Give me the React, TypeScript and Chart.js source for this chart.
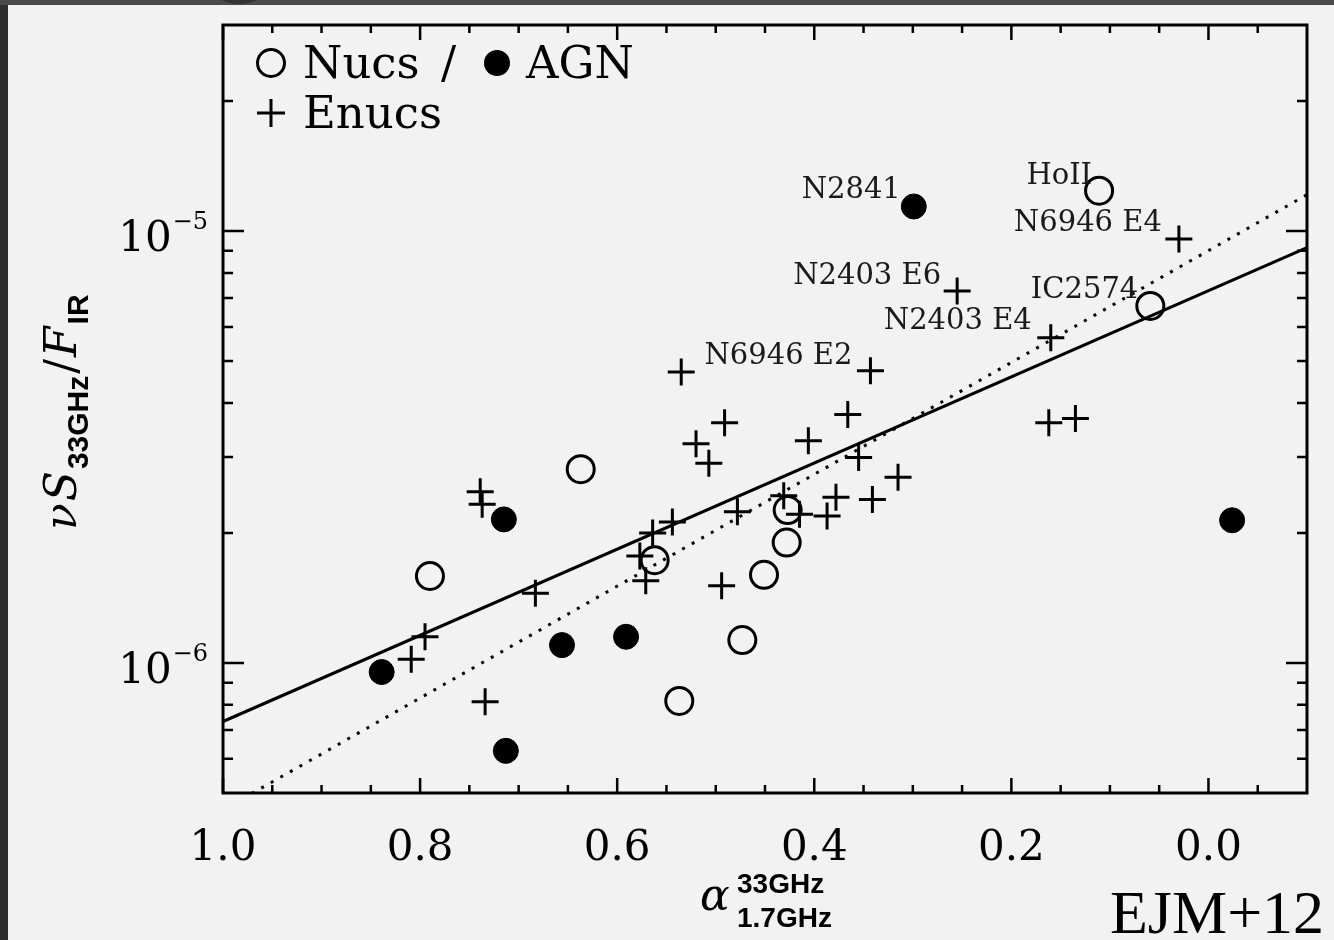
import React, { useEffect, useRef } from "react";
import { Chart, registerables } from "chart.js";

Chart.register(...registerables);

// ---- Data (alpha = spectral index, ratio = nuS_33GHz / F_IR) ----
const nucsAlpha = [0.111, 0.059, 0.637, 0.79, 0.562, 0.427, 0.428, 0.451, 0.473, 0.537];
const nucsRatio = [1.24e-5, 6.71e-6, 2.81e-6, 1.59e-6, 1.73e-6, 2.26e-6, 1.9e-6, 1.6e-6, 1.13e-6, 8.17e-7];

const agnAlpha = [0.299, -0.024, 0.715, 0.839, 0.656, 0.591, 0.713];
const agnRatio = [1.14e-5, 2.14e-6, 2.15e-6, 9.53e-7, 1.1e-6, 1.15e-6, 6.26e-7];

const enucsAlpha = [
  0.03, 0.255, 0.16, 0.343, 0.535, 0.491, 0.52, 0.507, 0.366, 0.406, 0.355, 0.315,
  0.162, 0.135, 0.739, 0.737, 0.431, 0.378, 0.341, 0.415, 0.387, 0.478, 0.544, 0.564,
  0.577, 0.571, 0.683, 0.494, 0.795, 0.809, 0.734,
];
const enucsRatio = [
  9.58e-6, 7.27e-6, 5.66e-6, 4.75e-6, 4.72e-6, 3.6e-6, 3.22e-6, 2.9e-6, 3.76e-6, 3.27e-6, 2.99e-6, 2.69e-6,
  3.6e-6, 3.68e-6, 2.49e-6, 2.33e-6, 2.44e-6, 2.42e-6, 2.39e-6, 2.21e-6, 2.19e-6, 2.24e-6, 2.12e-6, 2.0e-6,
  1.77e-6, 1.55e-6, 1.45e-6, 1.51e-6, 1.15e-6, 1.02e-6, 8.13e-7,
];

const fitAlpha = [1.0, -0.1];
const fitRatio = [7.32e-7, 9.15e-6];
const dottedAlpha = [1.0, -0.1];
const dottedRatio = [4.57e-7, 1.214e-5];

// labelled objects: [series, index, text]
const labelSeries = ["agn", "nucs", "enucs", "enucs", "nucs", "enucs", "enucs"];
const labelIndex = [0, 0, 0, 1, 1, 2, 3];
const labelText = ["N2841", "HoII", "N6946 E4", "N2403 E6", "IC2574", "N2403 E4", "N6946 E2"];
const labelDx = [-13, -7, -17, -16, -12, -19, -18];
const labelDy = [-8, -7, -8, -7, -8, -9, -7];

// ticks
const xMajorTicks = [1.0, 0.8, 0.6, 0.4, 0.2, 0.0];
const xTickLabels = ["1.0", "0.8", "0.6", "0.4", "0.2", "0.0"];
const xMinorTicks = [0.95, 0.9, 0.85, 0.75, 0.7, 0.65, 0.55, 0.5, 0.45, 0.35, 0.3, 0.25, 0.15, 0.1, 0.05, -0.05];
const yMajorTicks = [1e-6, 1e-5];
const yTickExponents = ["\u22126", "\u22125"];
const yMinorTicks = [6e-7, 7e-7, 8e-7, 9e-7, 2e-6, 3e-6, 4e-6, 5e-6, 6e-6, 7e-6, 8e-6, 9e-6, 2e-5];

const toPts = (xs: number[], ys: number[]) => xs.map((x, i) => ({ x, y: ys[i] }));

const SERIF = '"DejaVu Serif"';
const SANS = '"Liberation Sans"';

const idlPlugin = {
  id: "idlAxes",
  beforeDatasetsDraw(chart: any) {
    const { ctx, chartArea: a, scales } = chart;
    const xs = scales.x;
    const ys = scales.y;
    ctx.save();
    ctx.strokeStyle = "#000";
    ctx.lineWidth = 2.5;
    ctx.beginPath();
    const xt = (v: number, len: number) => {
      const p = xs.getPixelForValue(v);
      ctx.moveTo(p, a.bottom);
      ctx.lineTo(p, a.bottom - len);
      ctx.moveTo(p, a.top);
      ctx.lineTo(p, a.top + len);
    };
    const yt = (v: number, len: number) => {
      const p = ys.getPixelForValue(v);
      ctx.moveTo(a.left, p);
      ctx.lineTo(a.left + len, p);
      ctx.moveTo(a.right, p);
      ctx.lineTo(a.right - len, p);
    };
    xMajorTicks.forEach((v) => xt(v, 15));
    xMinorTicks.forEach((v) => xt(v, 8));
    yMajorTicks.forEach((v) => yt(v, 21));
    yMinorTicks.forEach((v) => yt(v, 10));
    ctx.stroke();
    ctx.lineWidth = 3;
    ctx.strokeRect(a.left, a.top, a.right - a.left, a.bottom - a.top);
    ctx.restore();
  },
  afterDraw(chart: any) {
    const { ctx, chartArea: a, scales } = chart;
    const xs = scales.x;
    const ys = scales.y;
    ctx.save();
    ctx.fillStyle = "#000";
    ctx.textBaseline = "alphabetic";

    // x tick labels
    ctx.font = `42px ${SERIF}`;
    ctx.textAlign = "center";
    xMajorTicks.forEach((v, i) => {
      ctx.fillText(xTickLabels[i], xs.getPixelForValue(v), a.bottom + 67);
    });

    // y tick labels 10^-n
    yMajorTicks.forEach((v, i) => {
      const p = ys.getPixelForValue(v);
      const right = a.left - 15;
      ctx.font = `24px ${SERIF}`;
      ctx.textAlign = "right";
      const w = ctx.measureText(yTickExponents[i]).width;
      ctx.fillText(yTickExponents[i], right, p - 2);
      ctx.font = `42px ${SERIF}`;
      ctx.fillText("10", right - w - 1, p + 20);
    });

    // y title (rotated)
    ctx.save();
    ctx.translate(76, 530);
    ctx.rotate(-Math.PI / 2);
    ctx.textAlign = "left";
    const yPieces = [
      { t: "\u03bd", f: `italic 44px ${SERIF}`, dy: 0 },
      { t: "S", f: `italic 44px ${SERIF}`, dy: 0 },
      { t: "33GHz", f: `bold 30px ${SANS}`, dy: 12 },
      { t: "/", f: `44px ${SERIF}`, dy: 0 },
      { t: "F", f: `italic 44px ${SERIF}`, dy: 0 },
      { t: "IR", f: `bold 30px ${SANS}`, dy: 12 },
    ];
    let cx = 0;
    yPieces.forEach((p) => {
      ctx.font = p.f;
      ctx.fillText(p.t, cx, p.dy);
      cx += ctx.measureText(p.t).width + 2;
    });
    ctx.restore();

    // x title
    ctx.textAlign = "left";
    ctx.font = `italic 44px ${SERIF}`;
    ctx.fillText("\u03b1", 700, 910);
    ctx.font = `bold 28px ${SANS}`;
    ctx.fillText("33GHz", 737, 893);
    ctx.fillText("1.7GHz", 737, 927);

    // legend
    ctx.lineWidth = 3;
    ctx.strokeStyle = "#000";
    ctx.beginPath();
    ctx.arc(a.left + 48, a.top + 38, 13.5, 0, Math.PI * 2);
    ctx.stroke();
    ctx.font = `45px ${SERIF}`;
    ctx.fillText("Nucs", a.left + 80, a.top + 53);
    ctx.fillText("/", a.left + 218, a.top + 53);
    ctx.beginPath();
    ctx.arc(a.left + 274, a.top + 38, 13, 0, Math.PI * 2);
    ctx.fill();
    ctx.fillText("AGN", a.left + 303, a.top + 53);
    ctx.beginPath();
    ctx.moveTo(a.left + 34, a.top + 88);
    ctx.lineTo(a.left + 62, a.top + 88);
    ctx.moveTo(a.left + 48, a.top + 74);
    ctx.lineTo(a.left + 48, a.top + 102);
    ctx.stroke();
    ctx.fillText("Enucs", a.left + 80, a.top + 103);

    // object labels
    ctx.font = `29px ${SERIF}`;
    ctx.fillStyle = "#1a1a1a";
    ctx.textAlign = "right";
    labelText.forEach((t, i) => {
      const s = labelSeries[i];
      const k = labelIndex[i];
      const ax = s === "agn" ? agnAlpha[k] : s === "nucs" ? nucsAlpha[k] : enucsAlpha[k];
      const ay = s === "agn" ? agnRatio[k] : s === "nucs" ? nucsRatio[k] : enucsRatio[k];
      ctx.fillText(t, xs.getPixelForValue(ax) + labelDx[i], ys.getPixelForValue(ay) + labelDy[i]);
    });

    // citation
    ctx.fillStyle = "#000";
    ctx.textAlign = "left";
    ctx.font = `62px "Liberation Serif"`;
    ctx.fillText("EJM+12", 1110, 933);
    ctx.restore();
  },
};

export default function App() {
  const ref = useRef<HTMLCanvasElement>(null);
  useEffect(() => {
    if (!ref.current) return;
    const chart = new Chart(ref.current, {
      type: "scatter",
      data: {
        datasets: [
          {
            label: "Nucs",
            data: toPts(nucsAlpha, nucsRatio),
            pointStyle: "circle",
            pointRadius: 13.5,
            pointBorderWidth: 3,
            pointBorderColor: "#000",
            pointBackgroundColor: "rgba(0,0,0,0)",
          },
          {
            label: "AGN",
            data: toPts(agnAlpha, agnRatio),
            pointStyle: "circle",
            pointRadius: 12.5,
            pointBorderWidth: 1,
            pointBorderColor: "#000",
            pointBackgroundColor: "#000",
          },
          {
            label: "Enucs",
            data: toPts(enucsAlpha, enucsRatio),
            pointStyle: "cross",
            pointRadius: 13.5,
            pointBorderWidth: 3,
            pointBorderColor: "#000",
          },
          {
            label: "fit",
            data: toPts(fitAlpha, fitRatio),
            showLine: true,
            borderColor: "#000",
            borderWidth: 3,
            pointRadius: 0,
          },
          {
            label: "dotted",
            data: toPts(dottedAlpha, dottedRatio),
            showLine: true,
            borderColor: "#000",
            borderWidth: 3,
            borderDash: [3, 8],
            pointRadius: 0,
          },
        ] as any,
      },
      options: {
        responsive: false,
        maintainAspectRatio: false,
        animation: false,
        devicePixelRatio: 1,
        layout: { padding: { left: 223, top: 25, right: 27, bottom: 147 } },
        plugins: { legend: { display: false }, tooltip: { enabled: false } },
        events: [],
        scales: {
          x: { type: "linear", reverse: true, min: -0.1, max: 1.0, display: false },
          y: { type: "logarithmic", min: 5e-7, max: 3e-5, display: false },
        },
      } as any,
      plugins: [idlPlugin],
    });
    return () => chart.destroy();
  }, []);

  return (
    <div
      style={{
        position: "fixed",
        left: 0,
        top: 0,
        width: 1334,
        height: 940,
        background: "#f2f2f2",
        overflow: "hidden",
      }}
    >
      <canvas
        ref={ref}
        width={1334}
        height={940}
        style={{ position: "absolute", left: 0, top: 0, width: 1334, height: 940 }}
      />
      <div style={{ position: "absolute", left: 0, top: 0, width: 8, height: 940, background: "#2e2e2e" }} />
      <div style={{ position: "absolute", left: 0, top: 0, width: 1334, height: 5, background: "#4a4a4a" }} />
      <div
        style={{
          position: "absolute",
          left: 215,
          top: -22,
          width: 48,
          height: 26,
          borderRadius: "50%",
          background: "#333",
        }}
      />
    </div>
  );
}
